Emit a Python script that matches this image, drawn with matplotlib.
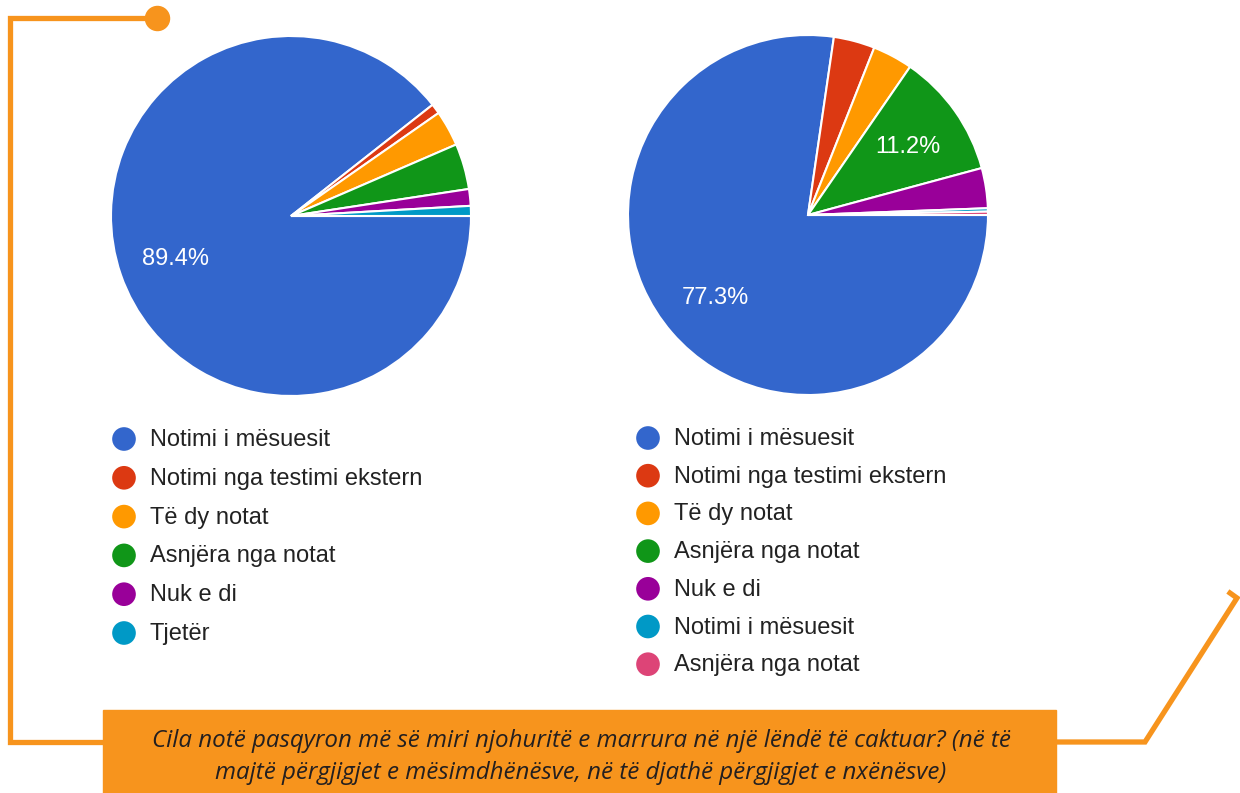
import matplotlib.pyplot as plt

# colours of the answer categories (Google chart palette)
colors = ["#3366CC", "#DC3912", "#FF9900", "#109618", "#990099", "#0099C6", "#DD4477"]
orange = "#F7941D"

# left pie: teachers' answers
left_labels = ["Notimi i mësuesit", "Notimi nga testimi ekstern", "Të dy notat",
               "Asnjëra nga notat", "Nuk e di", "Tjetër"]
left_values = [89.4, 0.9, 3.2, 4.1, 1.5, 0.9]

# right pie: students' answers
right_labels = ["Notimi i mësuesit", "Notimi nga testimi ekstern", "Të dy notat",
                "Asnjëra nga notat", "Nuk e di", "Notimi i mësuesit", "Asnjëra nga notat"]
right_values = [77.3, 3.7, 3.6, 11.2, 3.6, 0.3, 0.3]

caption = ("Cila notë pasqyron më së miri njohuritë e marrura në një lëndë të caktuar? (në të\n"
           "majtë përgjigjet e mësimdhënësve, në të djathë përgjigjet e nxënësve)")

W, H = 1240, 793
fig = plt.figure(figsize=(W / 100, H / 100), dpi=100)
plt.rcParams['font.family'] = ['Liberation Sans', 'DejaVu Sans']


def pie_axes(cx, cy, r):
    return fig.add_axes([(cx - r) / W, (H - cy - r) / H, 2 * r / W, 2 * r / H])


def pct(p):
    return f"{p:.1f}%" if p > 5 else ""


for (cx, cy), vals in [((291, 216), left_values), ((808, 215), right_values)]:
    ax = pie_axes(cx, cy, 180)
    wedges, texts, autotexts = ax.pie(vals, colors=colors[:len(vals)], startangle=0,
                                      counterclock=False, autopct=pct, pctdistance=0.68,
                                      wedgeprops=dict(edgecolor="white", linewidth=1.5))
    for t in autotexts:
        t.set_color("white")
        t.set_fontsize(17)
        x, y = t.get_position()
        t.set_position((x, y - 0.015))
    ax.set_xlim(-1, 1)
    ax.set_ylim(-1, 1)
    ax.set_aspect("equal")
    ax.axis("off")

# overlay in pixel coordinates for legends and decoration
ov = fig.add_axes([0, 0, 1, 1], zorder=-1)
ov.set_xlim(0, W)
ov.set_ylim(H, 0)
ov.axis("off")

# legends
for x0, y0, step, labels in [(124, 439, 38.8, left_labels), (648, 438, 37.7, right_labels)]:
    for i, lab in enumerate(labels):
        y = y0 + i * step
        ov.scatter([x0], [y], s=290, color=colors[i], edgecolor="none")
        ov.text(x0 + 26, y + 1, lab, fontsize=17, color="#222222", va="center", ha="left")

# orange connector lines
lw = 3.8
ov.plot([157, 10, 10, 103], [18, 18, 742, 742], color=orange, lw=lw, solid_joinstyle="miter")
ov.scatter([157], [18], s=300, color=orange, zorder=3)
ov.plot([1056, 1145, 1237, 1230], [742, 742, 598, 593], color=orange, lw=lw,
        solid_joinstyle="miter")

# caption box
ov.add_patch(plt.Rectangle((103, 710), 953, 90, color=orange, zorder=2))
ov.text(581, 757, caption, ha="center", va="center", fontsize=17.4, style="italic",
        family=["Open Sans", "DejaVu Sans"], color="#231F20", linespacing=1.42, zorder=3)

fig.savefig("out.png", dpi=100)
